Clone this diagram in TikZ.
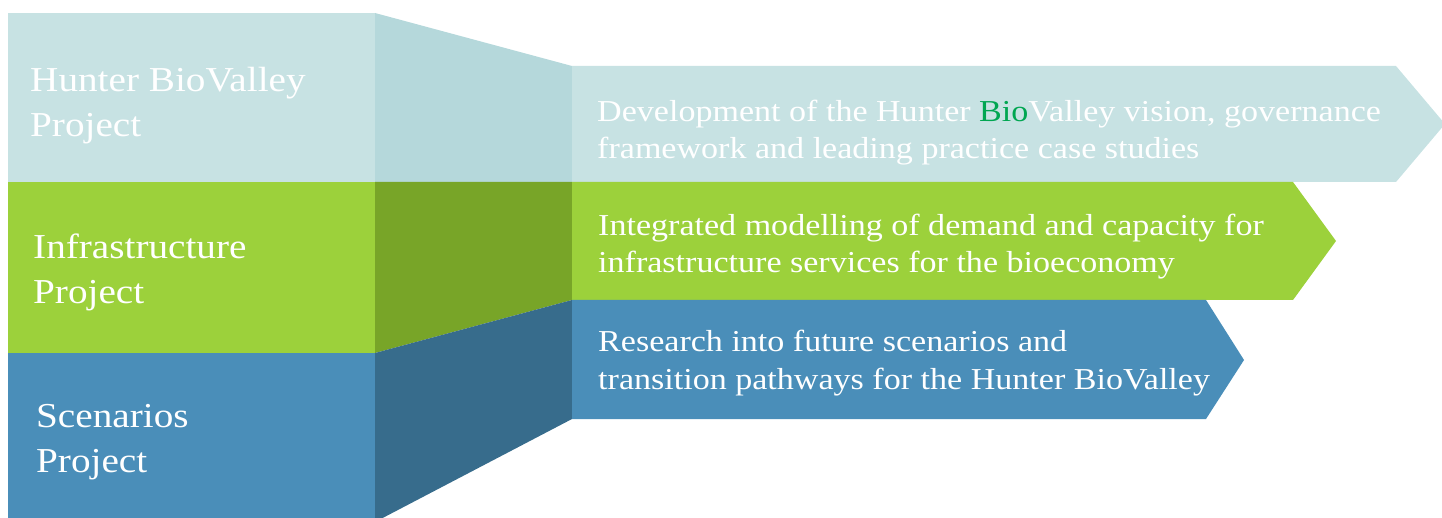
\documentclass[tikz,border=0pt]{standalone}
\usepackage{fontspec}
\setmainfont[FakeStretch=1.12]{Liberation Serif}
\definecolor{tealL}{HTML}{C7E2E3}
\definecolor{tealD}{HTML}{B5D8DB}
\definecolor{greenL}{HTML}{9CD13B}
\definecolor{greenD}{HTML}{78A528}
\definecolor{blueL}{HTML}{4A8EB9}
\definecolor{blueD}{HTML}{376C8C}
\definecolor{bioGreen}{HTML}{00A651}
\begin{document}
\begin{tikzpicture}[x=1pt,y=-1pt,
  % multi-line nodes are anchored at the baseline of their last line
  lefttext/.style={anchor=base west,inner sep=0pt,text=white,align=left,
    font=\fontsize{35}{45}\selectfont},
  righttext/.style={anchor=base west,inner sep=0pt,text=white,align=left,
    font=\fontsize{30.4}{37.5}\selectfont}]
\useasboundingbox (0,0) rectangle (1442,518);
\begin{scope}
\clip (0,0) rectangle (1442,518);
% left column bands
\fill[tealL]  (8,13)   rectangle (375,182);
\fill[greenL] (8,182)  rectangle (375,353);
\fill[blueL]  (8,353)  rectangle (375,530);
% slanted connecting faces
\fill[tealD]  (375,13) -- (572,66) -- (572,182) -- (375,182) -- cycle;
\fill[greenD] (375,182) -- (572,182) -- (572,300) -- (375,353) -- cycle;
\fill[blueD]  (375,353) -- (572,300) -- (572,419) -- (375,522) -- (375,530) -- cycle;
% arrow-shaped boxes on the right
\fill[tealL]  (572,66)  -- (1396,66)  -- (1445,124) -- (1396,182) -- (572,182) -- cycle;
\fill[greenL] (572,182) -- (1293,182) -- (1336,241) -- (1293,300) -- (572,300) -- cycle;
\fill[blueL]  (572,300) -- (1206,300) -- (1244,360) -- (1206,419) -- (572,419) -- cycle;
\end{scope}
% labels
\node[lefttext] (hbv) at (30,137) {Hunter BioValley\\Project};
\node[lefttext] (inf) at (33,304) {Infrastructure\\Project};
\node[lefttext] (scn) at (36,472) {Scenarios\\Project};
\node[righttext] (dev) at (597,159) {Development of the Hunter \textcolor{bioGreen}{Bio}Valley vision, governance\\framework and leading practice case studies};
\node[righttext] (int) at (598,273) {Integrated modelling of demand and capacity for\\infrastructure services for the bioeconomy};
\node[righttext] (res) at (598,389) {Research into future scenarios and\\transition pathways for the Hunter BioValley};
\end{tikzpicture}
\end{document}
